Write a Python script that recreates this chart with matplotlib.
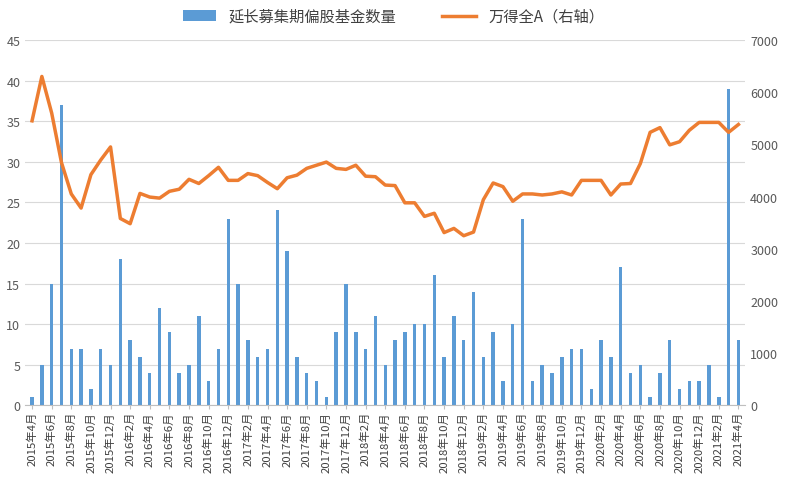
import matplotlib
matplotlib.use("Agg")
import matplotlib.pyplot as plt
import numpy as np

plt.rcParams['font.family'] = ['Noto Sans CJK SC', 'DejaVu Sans']

months = [f"{2015 + (3 + i)//12}年{(3 + i) % 12 + 1}月" for i in range(73)]
funds = [1,5,15,37,7,7,2,7,5,18, 8,6,4,12,9,4,5,11,3,7, 23,15,8,6,7,24,19,6,4,3,
         1,9,15,9,7,11,5,8,9,10, 10,16,6,11,8,14,6,9,3,10, 23,3,5,4,6,7,7,2,8,6,
         17,4,5,1,4,8,2,3,3,5, 1,39,8]
wind = [5450,6300,5600,4650,4050,3780,4420,4700,4950,3580,
        3480,4060,3990,3970,4100,4140,4330,4250,4400,4560,
        4310,4310,4440,4400,4270,4150,4360,4410,4540,4600,
        4660,4540,4520,4600,4390,4380,4220,4210,3880,3880,
        3620,3680,3310,3390,3250,3320,3940,4260,4190,3910,
        4050,4050,4030,4050,4090,4030,4310,4310,4310,4030,
        4240,4250,4630,5230,5320,4990,5050,5270,5420,5420,
        5420,5230,5380]

fig = plt.figure(figsize=(7.87, 4.81), dpi=100)
ax = fig.add_axes([0.032, 0.155, 0.915, 0.76])
x = np.arange(len(months))
b = ax.bar(x, funds, width=0.35, color='#5B9BD5', label='延长募集期偏股基金数量')
ax.set_ylim(0, 45)
ax.set_yticks(range(0, 46, 5))
ax.set_xlim(-0.7, len(months) - 0.3)
ax.set_xticks(x[::2])
ax.set_xticklabels(months[::2], rotation=90, fontsize=8.2, color='#404040')
ax.grid(axis='y', color='#D9D9D9', lw=0.8)
ax.set_axisbelow(True)
for s in ['top', 'right', 'left']:
    ax.spines[s].set_visible(False)
ax.spines['bottom'].set_color('#BFBFBF')
ax.tick_params(axis='y', length=0, labelsize=9, labelcolor='#595959')
ax.tick_params(axis='x', length=3, pad=1, color='#BFBFBF')

ax2 = ax.twinx()
l, = ax2.plot(x, wind, color='#ED7D31', lw=2.5, label='万得全A（右轴）')
ax2.set_ylim(0, 7000)
ax2.set_yticks(range(0, 7001, 1000))
for s in ax2.spines.values():
    s.set_visible(False)
ax2.tick_params(axis='y', length=0, labelsize=9, labelcolor='#595959')

fig.legend(handles=[b, l], loc='upper center', ncol=2, frameon=False,
           fontsize=11, bbox_to_anchor=(0.5, 1.01), handlelength=2.2,
           columnspacing=3, labelcolor='#404040')
fig.savefig('out.png')
